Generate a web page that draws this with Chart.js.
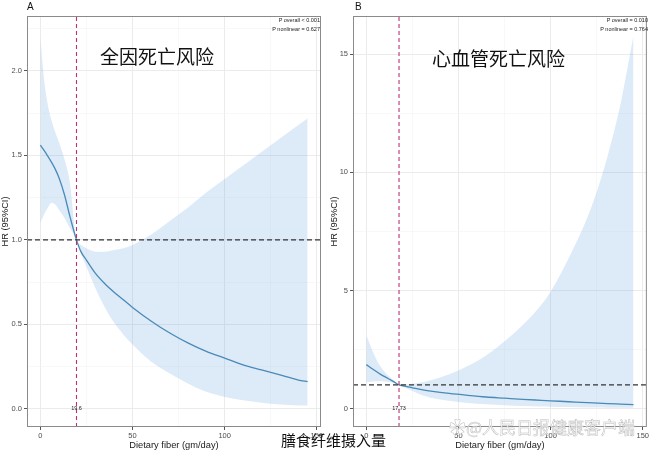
<!DOCTYPE html>
<html>
<head>
<meta charset="utf-8">
<script src="https://cdn.jsdelivr.net/npm/chart.js@4.4.1/dist/chart.umd.min.js"></script>
<style>
  body { margin: 0; background: #fff; }
  #wrap { position: relative; width: 650px; height: 451px; overflow: hidden; font-family: 'Liberation Sans', Arial, sans-serif; }
  canvas { position: absolute; top: 0; }
  .txt { position: absolute; white-space: nowrap; line-height: 1; color: #111; }
  .cjk { font-family: 'Noto Sans CJK SC', sans-serif; }
  .pval { position: absolute; font-size: 5.5px; line-height: 8.5px; text-align: right; color: #222; }
  .mark { color: rgba(255,255,255,0.8); -webkit-text-stroke: 0.5px rgba(160,160,160,0.7); }
</style>
</head>
<body>
<div id="wrap">
  <canvas id="chartA" width="325" height="451" style="left:0"></canvas>
  <canvas id="chartB" width="325" height="451" style="left:325px"></canvas>

  <div class="txt" style="left:27px;top:2px;font-size:10px">A</div>
  <div class="txt" style="left:355px;top:2px;font-size:10px">B</div>
  <div class="txt cjk" style="left:100px;top:46px;font-size:19px">全因死亡风险</div>
  <div class="txt cjk" style="left:432px;top:48px;font-size:19px">心血管死亡风险</div>
  <div class="pval" style="right:330px;top:16px">P overall &lt; 0.001<br>P nonlinear = 0.627</div>
  <div class="pval" style="right:2px;top:16px">P overall = 0.010<br>P nonlinear = 0.764</div>
  <div class="txt cjk" style="left:281px;top:432px;font-size:15px">膳食纤维摄入量</div>
  <div class="txt cjk mark" style="left:449px;top:418px;font-size:17px">✿@人民日报健康客户端</div>
</div>

<script>
// A: all-cause mortality, restricted cubic spline
const fiberA = [0, 2, 4, 6, 8, 10, 13, 16, 19.6, 22, 25, 30, 35, 40, 45, 50, 60, 70, 80, 90, 100, 110, 120, 130, 140, 145]
const hrA    = [1.56, 1.53, 1.495, 1.46, 1.42, 1.37, 1.27, 1.14, 1.00, 0.93, 0.88, 0.80, 0.74, 0.69, 0.645, 0.60, 0.52, 0.45, 0.39, 0.34, 0.30, 0.26, 0.23, 0.20, 0.17, 0.16]
const upperA = [2.20, 1.95, 1.80, 1.71, 1.64, 1.58, 1.48, 1.34, 1.00, 0.97, 0.95, 0.93, 0.93, 0.94, 0.95, 0.97, 1.03, 1.11, 1.19, 1.28, 1.36, 1.44, 1.52, 1.60, 1.68, 1.72]
const lowerA = [1.10, 1.15, 1.19, 1.22, 1.21, 1.18, 1.13, 1.07, 1.00, 0.92, 0.84, 0.71, 0.60, 0.51, 0.44, 0.38, 0.28, 0.21, 0.15, 0.10, 0.07, 0.05, 0.035, 0.025, 0.02, 0.02]
const refA = 19.6
const refLabelA = '19.6'

// B: cardiovascular mortality
const fiberB = [0, 2.5, 5, 7.5, 10, 12.5, 15, 17.73, 20, 25, 30, 35, 45, 55, 65, 75, 85, 95, 100, 110, 120, 126, 131, 138, 145]
const hrB    = [1.86, 1.72, 1.59, 1.46, 1.35, 1.24, 1.13, 1.00, 0.96, 0.88, 0.80, 0.74, 0.64, 0.56, 0.49, 0.44, 0.39, 0.35, 0.33, 0.29, 0.25, 0.23, 0.21, 0.19, 0.17]
const upperB = [3.10, 2.60, 2.15, 1.80, 1.55, 1.35, 1.18, 1.00, 1.01, 1.05, 1.10, 1.20, 1.45, 1.80, 2.25, 2.85, 3.55, 4.40, 4.95, 6.40, 8.10, 9.40, 10.7, 12.9, 15.8]
const lowerB = [1.12, 1.14, 1.16, 1.16, 1.15, 1.12, 1.07, 1.00, 0.91, 0.74, 0.58, 0.46, 0.33, 0.24, 0.18, 0.14, 0.11, 0.09, 0.08, 0.065, 0.05, 0.045, 0.04, 0.035, 0.03]
const refB = 17.73
const refLabelB = '17.73'

// labelled ticks (minor gridlines sit halfway between)
const xTickLabels = [0, 50, 100, 150]
const yTickLabelsA = [0, 0.5, 1, 1.5, 2]
const yTickLabelsB = [0, 5, 10, 15]

const lineColor = '#4a8ab6'
const bandColor = 'rgba(110, 165, 225, 0.23)'
const refColor = '#b8336f'
const gridColor = '#ebebeb'

function toPoints(xs, ys) {
  return xs.map((x, i) => ({ x: x, y: ys[i] }))
}

function isLabelled(list, v) {
  return list.some(t => Math.abs(t - v) < 1e-6)
}

const panelDecor = {
  id: 'panelDecor',
  afterDatasetsDraw(chart, args, opts) {
    const { ctx, chartArea: a, scales } = chart
    ctx.save()
    ctx.font = '5.5px "Liberation Sans"'
    ctx.fillStyle = '#222'
    ctx.textAlign = 'center'
    ctx.textBaseline = 'middle'
    ctx.fillText(opts.label, scales.x.getPixelForValue(opts.ref), scales.y.getPixelForValue(0))
    ctx.strokeStyle = '#8a8a8a'
    ctx.lineWidth = 1
    ctx.strokeRect(a.left + 0.5, a.top + 0.5, a.width - 1, a.height - 1)
    ctx.restore()
  }
}

function createPanel(canvasId, p) {
  const ctx = document.getElementById(canvasId).getContext('2d')
  return new Chart(ctx, {
    type: 'line',
    data: {
      datasets: [
        { data: [{ x: p.xMin, y: 1 }, { x: p.xMax, y: 1 }], borderColor: '#333', borderWidth: 1.3, borderDash: [5, 3], tension: 0, pointRadius: 0 },
        { data: [{ x: p.ref, y: p.yMin }, { x: p.ref, y: p.yMax }], borderColor: refColor, borderWidth: 1.1, borderDash: [4, 3], tension: 0, pointRadius: 0 },
        { data: toPoints(p.xs, p.hr), borderColor: lineColor, borderWidth: 1.3, cubicInterpolationMode: 'monotone', pointRadius: 0 },
        { data: toPoints(p.xs, p.upper), borderWidth: 0, borderColor: 'rgba(0,0,0,0)', backgroundColor: bandColor, fill: '+1', cubicInterpolationMode: 'monotone', pointRadius: 0 },
        { data: toPoints(p.xs, p.lower), borderWidth: 0, borderColor: 'rgba(0,0,0,0)', fill: false, cubicInterpolationMode: 'monotone', pointRadius: 0 },
      ]
    },
    options: {
      responsive: false,
      animation: false,
      devicePixelRatio: 1,
      layout: { padding: { left: 0, top: 16, right: p.padRight, bottom: 0 } },
      scales: {
        x: {
          type: 'linear',
          min: p.xMin,
          max: p.xMax,
          afterFit: s => { s.height = 24 },
          border: { display: false },
          grid: {
            tickLength: 3,
            color: c => isLabelled(xTickLabels, c.tick.value) ? gridColor : '#f3f3f3',
            lineWidth: c => isLabelled(xTickLabels, c.tick.value) ? 1 : 0.6,
            tickColor: c => isLabelled(xTickLabels, c.tick.value) ? '#555' : 'rgba(0,0,0,0)',
          },
          ticks: {
            stepSize: 25,
            includeBounds: false,
            autoSkip: false,
            maxRotation: 0,
            padding: 1,
            color: '#4d4d4d',
            font: { family: 'Liberation Sans', size: 7.5 },
            callback: v => isLabelled(xTickLabels, v) ? String(v) : '',
          },
          title: {
            display: true,
            text: 'Dietary fiber (gm/day)',
            color: '#1a1a1a',
            font: { family: 'Liberation Sans', size: 9.3 },
            padding: { top: 0, bottom: 0 },
          },
        },
        y: {
          min: p.yMin,
          max: p.yMax,
          afterFit: s => { s.width = p.axisWidth },
          border: { display: false },
          grid: {
            tickLength: 3,
            color: c => isLabelled(p.yLabels, c.tick.value) ? gridColor : '#f3f3f3',
            lineWidth: c => isLabelled(p.yLabels, c.tick.value) ? 1 : 0.6,
            tickColor: c => isLabelled(p.yLabels, c.tick.value) ? '#555' : 'rgba(0,0,0,0)',
          },
          ticks: {
            stepSize: p.yStep,
            includeBounds: false,
            autoSkip: false,
            padding: 2,
            color: '#4d4d4d',
            font: { family: 'Liberation Sans', size: 7.5 },
            callback: v => isLabelled(p.yLabels, v) ? v.toFixed(p.yDigits) : '',
          },
          title: {
            display: true,
            text: 'HR (95%CI)',
            color: '#1a1a1a',
            font: { family: 'Liberation Sans', size: 9.3 },
            padding: { top: p.titleShift, bottom: 0 },
          },
        },
      },
      plugins: {
        legend: { display: false },
        tooltip: { enabled: false },
        panelDecor: { ref: p.ref, label: p.refLabel },
      },
    },
    plugins: [panelDecor],
  })
}

createPanel('chartA', {
  xs: fiberA, hr: hrA, upper: upperA, lower: lowerA,
  ref: refA, refLabel: refLabelA,
  xMin: -7.25, xMax: 152.25, yMin: -0.108, yMax: 2.325,
  yStep: 0.25, yLabels: yTickLabelsA, yDigits: 1,
  axisWidth: 27, padRight: 4, titleShift: 0,
})

createPanel('chartB', {
  xs: fiberB, hr: hrB, upper: upperB, lower: lowerB,
  ref: refB, refLabel: refLabelB,
  xMin: -7.25, xMax: 152.25, yMin: -0.78, yMax: 16.62,
  yStep: 2.5, yLabels: yTickLabelsB, yDigits: 0,
  axisWidth: 28, padRight: 2, titleShift: 4,
})
</script>
</body>
</html>
